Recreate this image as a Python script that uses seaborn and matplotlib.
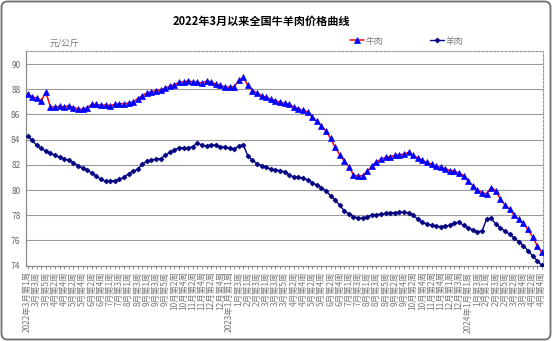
import numpy as np
import pandas as pd
import matplotlib
matplotlib.use("Agg")
import matplotlib.pyplot as plt
from matplotlib.patches import FancyBboxPatch
import seaborn as sns

# Weekly national average retail prices (yuan/kg), 2022 W1 of March to 2024 W4 of April
beef = [
    87.65, 87.4, 87.3, 87.1, 87.75, 86.6, 86.6, 86.65, 86.6, 86.7,
    86.55, 86.45, 86.4, 86.55, 86.8, 86.8, 86.75, 86.75, 86.7, 86.8,
    86.85, 86.85, 86.9, 87.0, 87.25, 87.5, 87.7, 87.8, 87.9, 87.95,
    88.1, 88.25, 88.35, 88.55, 88.6, 88.65, 88.6, 88.55, 88.5, 88.65,
    88.55, 88.4, 88.3, 88.2, 88.15, 88.2, 88.7, 88.95, 88.3, 87.9,
    87.7, 87.5, 87.35, 87.2, 87.1, 86.95, 86.9, 86.8, 86.6, 86.45,
    86.35, 86.2, 85.8, 85.45, 85.1, 84.7, 84.1, 83.4, 82.8, 82.3,
    81.85, 81.2, 81.1, 81.15, 81.5, 81.9, 82.25, 82.45, 82.6, 82.65,
    82.75, 82.8, 82.85, 83.0, 82.75, 82.55, 82.35, 82.2, 82.05, 81.9,
    81.8, 81.7, 81.55, 81.5, 81.35, 81.15, 80.7, 80.35, 80.0, 79.8,
    79.7, 80.2, 79.95, 79.3, 78.8, 78.5, 78.0, 77.7, 77.35, 76.9,
    76.3, 75.6, 75.05,
]
mutton = [
    84.3, 83.95, 83.55, 83.3, 83.1, 82.95, 82.75, 82.6, 82.45, 82.4,
    82.15, 81.95, 81.75, 81.6, 81.35, 81.1, 80.85, 80.7, 80.7, 80.75,
    80.85, 81.0, 81.3, 81.5, 81.65, 82.05, 82.3, 82.4, 82.45, 82.5,
    82.75, 83.0, 83.2, 83.35, 83.35, 83.35, 83.45, 83.75, 83.55, 83.5,
    83.6, 83.55, 83.45, 83.4, 83.3, 83.25, 83.5, 83.6, 82.7, 82.35,
    82.1, 81.95, 81.8, 81.65, 81.6, 81.55, 81.45, 81.2, 81.05, 81.0,
    80.95, 80.8, 80.6, 80.4, 80.2, 79.95, 79.55, 79.2, 78.8, 78.35,
    78.1, 77.9, 77.8, 77.75, 77.9, 78.0, 78.05, 78.1, 78.15, 78.2,
    78.2, 78.25, 78.25, 78.2, 78.0, 77.7, 77.45, 77.3, 77.2, 77.15,
    77.1, 77.15, 77.2, 77.4, 77.45, 77.2, 77.0, 76.85, 76.7, 76.75,
    77.7, 77.75, 77.3, 77.0, 76.75, 76.5, 76.2, 75.9, 75.6, 75.2,
    74.8, 74.4, 74.05,
]

# Every second week carries a label
week_labels = [
    "2022年3月第1周", "3月第3周", "3月第5周", "4月第2周", "4月第4周",
    "5月第2周", "5月第4周", "6月第2周", "6月第4周", "7月第1周",
    "7月第3周", "8月第1周", "8月第3周", "9月第1周", "9月第3周",
    "9月第5周", "10月第2周", "10月第4周", "11月第2周", "11月第4周",
    "12月第2周", "12月第4周", "2023年1月第1周", "1月第3周", "2月第1周",
    "2月第3周", "3月第1周", "3月第3周", "3月第5周", "4月第2周",
    "4月第4周", "5月第2周", "5月第4周", "6月第2周", "6月第4周",
    "7月第1周", "7月第3周", "8月第1周", "8月第3周", "8月第5周",
    "9月第2周", "9月第4周", "10月第2周", "10月第4周", "11月第2周",
    "11月第4周", "12月第1周", "12月第3周", "2024年1月第1周", "1月第3周",
    "2月第1周", "2月第3周", "2月第5周", "3月第2周", "3月第4周",
    "4月第2周", "4月第4周",
]
series_names = ["牛肉", "羊肉"]
y_ticks = [74, 76, 78, 80, 82, 84, 86, 88, 90]

sns.set_theme(style="white")
plt.rcParams["font.family"] = ["Noto Sans CJK SC", "DejaVu Sans"]
plt.rcParams["axes.unicode_minus"] = False

W, H = 552, 341
fig = plt.figure(figsize=(W / 100, H / 100), dpi=100, facecolor="white")

# Background layer: fine dot texture and rounded outer frame
bg = fig.add_axes([0, 0, 1, 1], zorder=-10)
bg.set_xlim(0, W)
bg.set_ylim(0, H)
bg.axis("off")
gx, gy = np.meshgrid(np.arange(2, W, 8), np.arange(2, H, 4))
gx = gx + (np.arange(gy.shape[0])[:, None] % 2) * 4
bg.scatter(gx.ravel(), gy.ravel(), s=0.5, marker="s", color="#c8c8c8",
           linewidths=0)
bg.add_patch(FancyBboxPatch((1.5, 1.5), W - 3, H - 3,
                            boxstyle="round,pad=0,rounding_size=6",
                            fill=False, edgecolor="#6e6e6e", linewidth=1.3))

ax = fig.add_axes([26 / W, 1 - 265.7 / H, (543 - 26) / W, (265.7 - 50.7) / H])
ax.set_facecolor("none")

n = len(beef)
df = pd.DataFrame({"week": np.arange(n), "beef": beef, "mutton": mutton})

sns.lineplot(data=df, x="week", y="beef", ax=ax, color="#ff0000", lw=1.1,
             marker="^", markersize=4.2, markerfacecolor="#0000ff",
             markeredgecolor="#0000ff", markeredgewidth=0.5,
             label=series_names[0], zorder=3)
sns.lineplot(data=df, x="week", y="mutton", ax=ax, color="#000080", lw=1.0,
             marker="D", markersize=2.6, markerfacecolor="#000080",
             markeredgecolor="#000080", markeredgewidth=0.4,
             label=series_names[1], zorder=3)

ax.set_xlim(-0.33, n - 1 + 0.28)
ax.set_ylim(74, 91.06)
ax.set_yticks(y_ticks)
ax.set_yticklabels([str(v) for v in y_ticks], fontsize=6, color="#666666")
ax.grid(axis="y", color="#9a9a9a", lw=0.8)
ax.grid(axis="x", visible=False)

ax.set_xticks(np.arange(n))
tick_text = []
for i in range(n):
    tick_text.append(week_labels[i // 2] if i % 2 == 0 else "")
ax.set_xticklabels(tick_text, rotation=90, fontsize=6, color="#7a7a7a",
                   va="top", ha="center")
ax.tick_params(axis="x", length=2.5, width=0.6, color="#777777", pad=1.5,
               bottom=True)
ax.tick_params(axis="y", length=0, pad=4)
ax.set_xlabel("")
ax.set_ylabel("")

for side in ("left", "bottom"):
    ax.spines[side].set_color("#8a8a8a")
    ax.spines[side].set_linewidth(0.9)
for side in ("top", "right"):
    ax.spines[side].set_color("#9a9a9a")
    ax.spines[side].set_linewidth(0.8)
    ax.spines[side].set_linestyle((0, (2, 1.5)))

fig.text(261 / W, 1 - 21 / H, "2022年3月以来全国牛羊肉价格曲线",
         ha="center", va="center", fontsize=8, fontweight="bold",
         color="black")
fig.text(50 / W, 1 - 43 / H, "元/公斤", ha="left", va="center",
         fontsize=6.3, color="#777777")

handles, labels = ax.get_legend_handles_labels()
ax.legend(handles, labels, loc="center left",
          bbox_to_anchor=(350 / W, 1 - 41 / H),
          bbox_transform=fig.transFigure, ncol=2, frameon=False,
          fontsize=6.3, labelcolor="#777777", handlelength=1.6,
          handletextpad=0.2, columnspacing=5.3, borderpad=0, borderaxespad=0)

fig.savefig("out.png", dpi=100, facecolor="white")
